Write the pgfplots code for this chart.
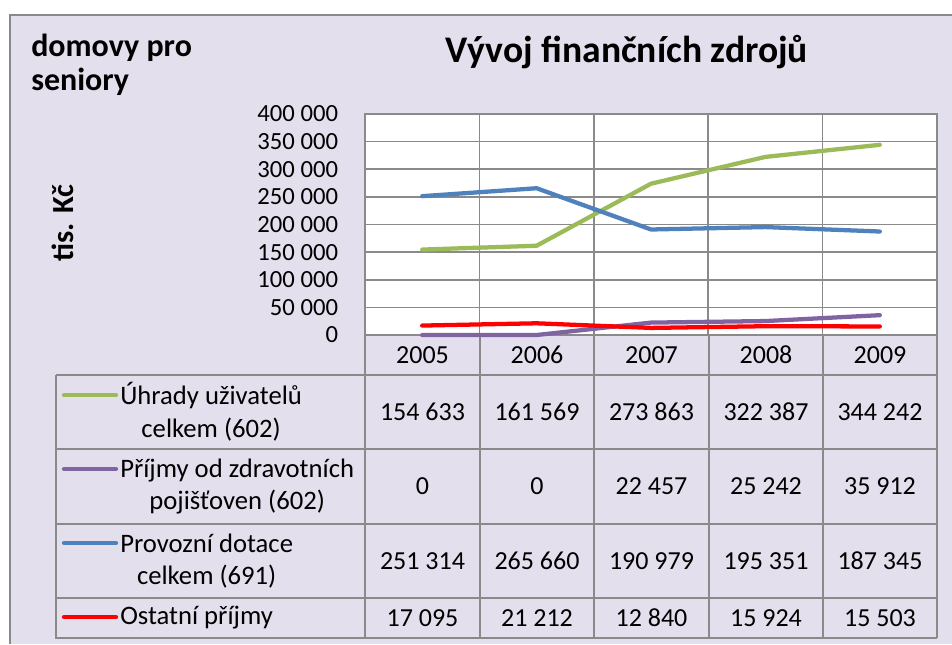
\documentclass[border=0pt]{standalone}
\usepackage{fontspec}
\setmainfont{Carlito}
\usepackage{pgfplots}
\pgfplotsset{compat=1.18}
\definecolor{bg}{HTML}{E4DFEC}
\definecolor{grd}{HTML}{8A8A8A}
\definecolor{cgreen}{HTML}{9BBB59}
\definecolor{cpurple}{HTML}{8064A2}
\definecolor{cblue}{HTML}{4F81BD}
\definecolor{cred}{HTML}{FF0000}
\begin{document}
\begin{tikzpicture}
\begin{scope}[x=0.75pt,y=-0.75pt]
\fill[bg] (10,15) rectangle (952,644);
\draw[grd, line width=1.2pt] (10,644) -- (10,15) -- (952,15);
\node[anchor=base, inner sep=0pt, font=\fontsize{28.2}{32}\selectfont\bfseries] at (627,62) {Vývoj finančních zdrojů};
\node[anchor=base west, inner sep=0pt, font=\fontsize{24}{28}\selectfont\bfseries] at (31,56) {domovy pro};
\node[anchor=base west, inner sep=0pt, font=\fontsize{24}{28}\selectfont\bfseries] at (31,90) {seniory};
\node[rotate=90, inner sep=0pt, font=\fontsize{23}{26}\selectfont\bfseries] at (63,223) {tis. Kč};
% table grid
\begin{scope}[grd, line width=1.2pt]
\foreach \x in {365,480,594,709,823,937} \draw (\x,335) -- (\x,638);
\draw (56,375) -- (56,638) -- (937,638);
\foreach \y in {375,449,524,598} \draw (56,\y) -- (937,\y);
\end{scope}
% legend keys
\begin{scope}[line width=3.2pt, line cap=round]
\draw[cgreen] (64,395) -- (116,395);
\draw[cpurple] (64,469) -- (116,469);
\draw[cblue] (64,543) -- (116,543);
\draw[cred] (64,617) -- (116,617);
\end{scope}
\begin{scope}[every node/.style={inner sep=0pt, font=\fontsize{19.5}{24.5}\selectfont}]
\node[anchor=west, align=center, font=\fontsize{20}{24.5}\selectfont] at (120,412) {Úhrady uživatelů\\celkem (602)};
\node[anchor=west, align=center, font=\fontsize{20}{24.5}\selectfont] at (120,486.5) {Příjmy od zdravotních\\pojišťoven (602)};
\node[anchor=west, align=center, font=\fontsize{20}{24.5}\selectfont] at (120,561) {Provozní dotace\\celkem (691)};
\node[anchor=west, align=center, font=\fontsize{20}{24.5}\selectfont] at (120,618) {Ostatní příjmy};
% years
\node at (422.5,355) {2005};
\node at (537,355) {2006};
\node at (651.5,355) {2007};
\node at (766,355) {2008};
\node at (880,355) {2009};
% values
\node at (422.5,412) {154 633};
\node at (537,412) {161 569};
\node at (651.5,412) {273 863};
\node at (766,412) {322 387};
\node at (880,412) {344 242};
\node at (422.5,486.5) {0};
\node at (537,486.5) {0};
\node at (651.5,486.5) {22 457};
\node at (766,486.5) {25 242};
\node at (880,486.5) {35 912};
\node at (422.5,561) {251 314};
\node at (537,561) {265 660};
\node at (651.5,561) {190 979};
\node at (766,561) {195 351};
\node at (880,561) {187 345};
\node at (422.5,618) {17 095};
\node at (537,618) {21 212};
\node at (651.5,618) {12 840};
\node at (766,618) {15 924};
\node at (880,618) {15 503};
\end{scope}
\end{scope}
\begin{axis}[
  at={(273.75pt,-251.25pt)}, anchor=south west,
  width=429pt, height=165.75pt, scale only axis,
  xmin=-0.5, xmax=4.5, ymin=0, ymax=400000,
  xtick={-0.5,0.5,1.5,2.5,3.5,4.5}, xticklabels={},
  ytick={0,50000,100000,150000,200000,250000,300000,350000,400000},
  yticklabels={0,50 000,100 000,150 000,200 000,250 000,300 000,350 000,400 000},
  scaled y ticks=false,
  major tick length=0pt,
  xmajorgrids, ymajorgrids,
  grid style={grd, line width=1.2pt},
  axis line style={grd, line width=1.2pt},
  axis background/.style={fill=white},
  yticklabel style={font=\fontsize{18.5}{20}\selectfont, inner sep=0pt, anchor=east, xshift=-20pt},
  clip=false,
]
\addplot[cgreen, line width=3.2pt, line cap=round, line join=round] coordinates {(0,154633)(1,161569)(2,273863)(3,322387)(4,344242)};
\addplot[cpurple, line width=3.2pt, line cap=round, line join=round] coordinates {(0,0)(1,0)(2,22457)(3,25242)(4,35912)};
\addplot[cblue, line width=3.2pt, line cap=round, line join=round] coordinates {(0,251314)(1,265660)(2,190979)(3,195351)(4,187345)};
\addplot[cred, line width=3.2pt, line cap=round, line join=round] coordinates {(0,17095)(1,21212)(2,12840)(3,15924)(4,15503)};
\end{axis}
\begin{scope}[x=0.75pt,y=-0.75pt]
\pgfresetboundingbox
\path[use as bounding box] (0,0) rectangle (952,644);
\end{scope}
\end{tikzpicture}
\end{document}
